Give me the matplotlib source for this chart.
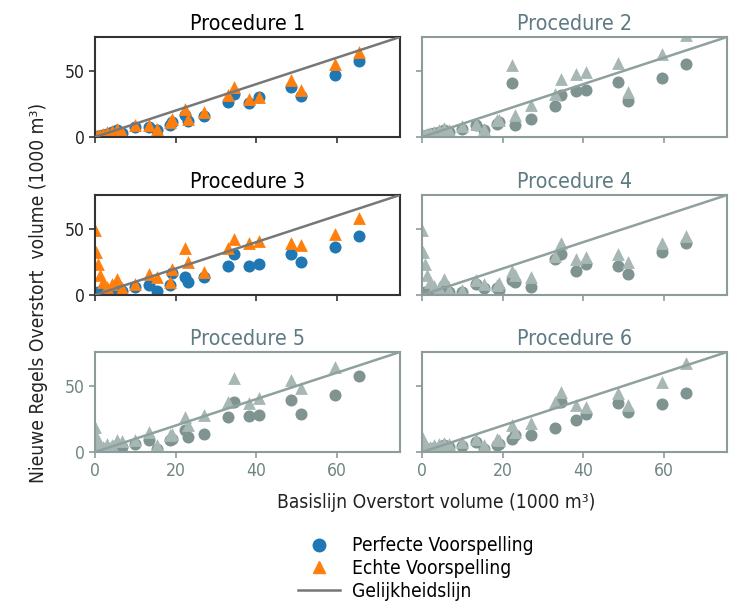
import numpy as np
import matplotlib
matplotlib.use('Agg')
import matplotlib.pyplot as plt
from matplotlib.lines import Line2D
from matplotlib import font_manager

# baseline overflow volume (1000 m3), same for every procedure
basis = [0.0, 0.3, 0.7, 1.2, 2.0, 3.0, 4.2, 5.5, 6.8, 10.0, 13.3, 15.4, 18.5, 19.0,
         22.3, 23.0, 27.1, 32.9, 34.6, 38.1, 40.8, 48.75, 51.1, 59.6, 65.4]

# perfect prediction (circles) / real prediction (triangles) per procedure
perfect_1 = [0.3, 0.2, 0.6, 1.0, 1.8, 2.5, 3.5, 5.0, 3.0, 7.6, 7.9, 5.0, 8.9, 11.0,
             16.4, 12.1, 15.7, 26.5, 32.9, 25.8, 30.3, 37.9, 31.1, 46.7, 57.6]
real_1 = [0.5, 0.5, 1.0, 1.5, 2.5, 3.5, 4.5, 6.0, 4.0, 8.9, 9.4, 6.3, 11.0, 13.9,
          21.5, 13.9, 18.9, 31.5, 37.9, 29.0, 30.0, 42.9, 35.3, 55.6, 64.4]

perfect_2 = [0.5, 0.4, 1.0, 1.2, 2.0, 3.0, 3.5, 5.0, 3.5, 6.3, 8.8, 5.1, 10.1, 11.0,
             41.2, 9.3, 14.0, 23.2, 31.6, 35.1, 35.9, 41.7, 27.1, 45.0, 55.0]
real_2 = [1.0, 1.0, 1.5, 2.0, 3.0, 4.0, 5.0, 6.5, 5.0, 8.0, 10.0, 6.0, 12.6, 13.0,
          54.3, 16.4, 24.0, 32.8, 44.2, 47.9, 49.2, 56.3, 34.2, 62.6, 77.0]

perfect_3 = [1.0, 1.0, 2.0, 1.5, 2.0, 3.0, 4.0, 5.0, 3.0, 6.2, 7.9, 2.9, 7.4, 16.5,
             13.6, 9.9, 13.6, 22.3, 30.9, 22.3, 23.5, 30.9, 24.8, 36.5, 44.6]
real_3 = [49.5, 32.2, 23.5, 15.0, 10.0, 6.0, 8.0, 12.4, 5.0, 8.7, 16.1, 13.6, 9.9, 19.5,
          35.9, 24.8, 17.3, 35.9, 42.1, 39.6, 40.9, 39.6, 37.7, 45.9, 58.2]

perfect_4 = [1.0, 1.0, 2.0, 2.0, 2.0, 3.0, 2.0, 7.4, 2.0, 2.5, 8.7, 5.0, 5.0, 4.0,
             11.1, 10.0, 6.2, 27.2, 30.9, 18.5, 23.5, 22.3, 16.1, 32.2, 39.6]
real_4 = [49.5, 32.2, 23.5, 15.0, 10.0, 7.0, 5.0, 12.4, 4.0, 4.0, 11.0, 8.7, 7.4, 9.0,
          18.5, 15.0, 13.6, 29.7, 39.6, 27.2, 28.5, 30.9, 24.8, 39.6, 44.6]

perfect_5 = [2.0, 1.0, 2.0, 1.0, 2.0, 3.0, 3.0, 5.0, 4.0, 6.0, 8.9, 2.5, 8.9, 10.0,
             16.5, 11.4, 13.9, 26.2, 38.1, 27.2, 27.9, 39.3, 29.0, 43.1, 57.6]
real_5 = [19.0, 12.0, 8.0, 5.0, 4.0, 6.0, 5.0, 9.0, 8.0, 8.9, 15.2, 5.0, 12.7, 14.0,
          26.7, 20.3, 27.9, 38.1, 55.8, 36.8, 40.6, 54.5, 48.2, 64.7, 82.0]

perfect_6 = [2.0, 1.0, 2.0, 1.0, 2.0, 3.0, 3.0, 5.0, 4.0, 4.3, 7.6, 2.5, 5.1, 6.0,
             10.1, 13.0, 12.7, 18.5, 38.1, 24.1, 29.0, 37.3, 30.4, 36.3, 44.9]
real_6 = [11.4, 8.0, 5.0, 4.0, 4.0, 5.0, 6.0, 7.0, 6.0, 7.6, 10.1, 5.0, 10.1, 9.0,
          20.3, 15.0, 21.6, 38.1, 45.6, 35.5, 34.2, 44.4, 35.5, 53.3, 67.7]

titles = ['Procedure 1', 'Procedure 2', 'Procedure 3', 'Procedure 4', 'Procedure 5', 'Procedure 6']
perfect = [perfect_1, perfect_2, perfect_3, perfect_4, perfect_5, perfect_6]
real = [real_1, real_2, real_3, real_4, real_5, real_6]
highlighted = [True, False, True, False, False, False]

# narrow text if a condensed DejaVu is around
cond = font_manager.findfont(font_manager.FontProperties(family='DejaVu Sans', stretch='condensed'))
if 'Condensed' in cond:
    plt.rcParams['font.stretch'] = 'condensed'
    scale = 1.1
else:
    scale = 1.0

fig = plt.figure(figsize=(7.38, 6.03), dpi=100)

lefts = [95 / 738, 422 / 738]
bottoms = [1 - 137 / 603, 1 - 295 / 603, 1 - 452 / 603]
w = 305 / 738
h = 100 / 603
lim = 75.7

for i in range(6):
    row, col = divmod(i, 2)
    ax = fig.add_axes([lefts[col], bottoms[row], w, h])
    if highlighted[i]:
        c_circ, c_tri, c_line, c_spine, c_title, c_lab = '#1f77b4', '#ff7f0e', '#777777', '#333333', 'black', '#222222'
    else:
        c_circ, c_tri, c_line, c_spine, c_title, c_lab = '#7f9391', '#a7b7b4', '#8fa19e', '#8c9c9a', '#5e7a82', '#6f8583'
    ax.scatter(basis, perfect[i], s=75, marker='o', color=c_circ, linewidths=0, zorder=2)
    ax.scatter(basis, real[i], s=85, marker='^', color=c_tri, linewidths=0, zorder=2.5)
    ax.plot([0, lim], [0, lim], color=c_line, lw=1.8, zorder=3)
    ax.set_xlim(0, lim)
    ax.set_ylim(0, lim)
    ax.set_xticks([0, 20, 40, 60])
    ax.set_yticks([0, 50])
    ax.set_title(titles[i], fontsize=14 * scale, color=c_title, pad=5)
    for sp in ax.spines.values():
        sp.set_color(c_spine)
        sp.set_linewidth(1.5)
    ax.tick_params(colors=c_spine, labelcolor=c_lab, labelsize=11.5 * scale, length=4, width=1.2)
    if row < 2:
        ax.set_xticklabels([])
    if col == 1:
        ax.set_yticklabels([])

fig.text(0.052, 0.515, 'Nieuwe Regels Overstort  volume (1000 m³)', rotation=90,
         ha='center', va='center', fontsize=12.5 * scale, color='#222222')
fig.text(436 / 738, 1 - 503 / 603, 'Basislijn Overstort volume (1000 m³)',
         ha='center', va='center', fontsize=12.5 * scale, color='#222222')

handles = [Line2D([], [], marker='o', ls='none', color='#1f77b4', markersize=9),
           Line2D([], [], marker='^', ls='none', color='#ff7f0e', markersize=9),
           Line2D([], [], color='#777777', lw=1.8)]
fig.legend(handles, ['Perfecte Voorspelling', 'Echte Voorspelling', 'Gelijkheidslijn'],
           loc='upper left', bbox_to_anchor=(281 / 738, 1 - 519 / 603), frameon=False,
           fontsize=12.5 * scale, handlelength=2.2, labelspacing=0.2, handletextpad=0.6)

fig.savefig('out.png', dpi=100)
plt.close()
